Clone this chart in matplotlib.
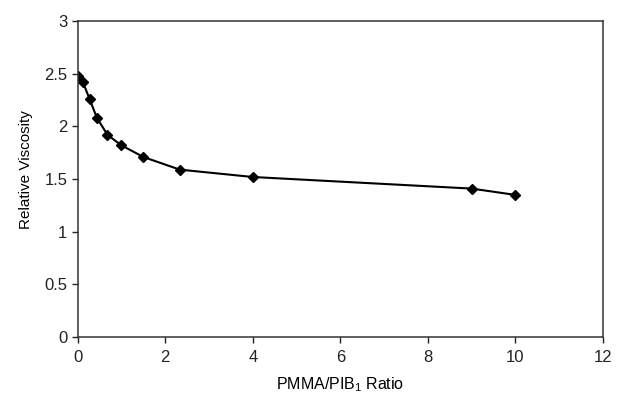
import matplotlib
matplotlib.use("Agg")
import matplotlib.pyplot as plt

plt.rcParams['font.family'] = ['Liberation Sans', 'DejaVu Sans']

ratio = [0, 0.12, 0.27, 0.44, 0.68, 1.0, 1.5, 2.33, 4.0, 9.0, 10.0]
viscosity = [2.48, 2.42, 2.26, 2.08, 1.92, 1.82, 1.71, 1.59, 1.52, 1.41, 1.35]

fig = plt.figure(figsize=(6.17, 3.98), dpi=100)
ax = fig.add_axes([0.126, 0.153, 0.851, 0.794])
ax.plot(ratio, viscosity, color="black", linewidth=1.5, marker="D", markersize=5, markerfacecolor="black")

ax.set_xlim(0, 12)
ax.set_ylim(0, 3)
ax.set_xticks(range(0, 13, 2))
ax.set_yticks([0, 0.5, 1, 1.5, 2, 2.5, 3])
ax.set_yticklabels(["0", "0.5", "1", "1.5", "2", "2.5", "3"])
ax.tick_params(direction="out", length=4, width=1, labelsize=12, colors="#222222")
ax.tick_params(axis="x", pad=5)
for s in ax.spines.values():
    s.set_linewidth(1.1)
    s.set_color("#333333")

ax.set_xlabel("PMMA/PIB$_\\mathregular{1}$ Ratio", fontsize=11.5, labelpad=8)
ax.set_ylabel("Relative Viscosity", fontsize=11, labelpad=9)
ax.yaxis.set_label_coords(-0.085, 0.53)

fig.savefig("out.png", dpi=100)
